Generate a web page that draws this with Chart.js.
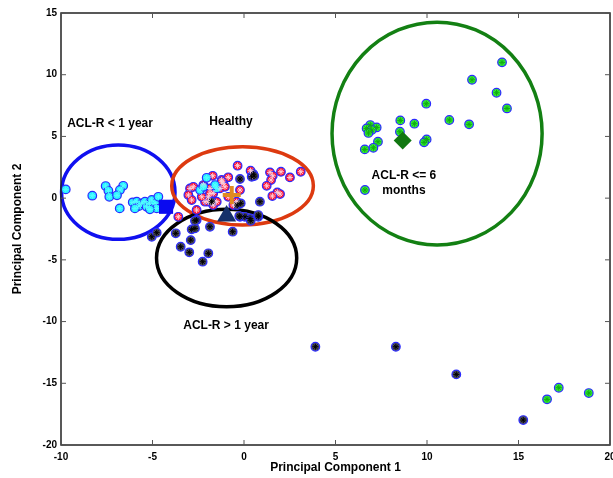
<!DOCTYPE html>
<html>
<head>
<meta charset="utf-8">
<script src="https://cdn.jsdelivr.net/npm/chart.js@4.4.0/dist/chart.umd.min.js"></script>
<style>
  html, body { margin: 0; padding: 0; background: #fff; }
  #wrap { width: 613px; height: 478px; }
</style>
</head>
<body>
<div id="wrap"><canvas id="pcaChart" width="613" height="478"></canvas></div>
<script>
// group points, [PC1, PC2]
const aclLessOneYear = [
    [-9.74, 0.71], [-8.29, 0.2], [-7.56, 0.98], [-7.41, 0.6], [-7.36, 0.11], [-6.6, 1.0],
    [-6.78, 0.66], [-6.94, 0.23], [-6.79, -0.83], [-6.08, -0.34], [-5.86, -0.29], [-5.74, -0.64],
    [-5.59, -0.42], [-5.41, -0.29], [-5.32, -0.7], [-5.17, -0.42], [-5.04, -0.15], [-4.86, -0.42],
    [-4.77, -0.83], [-4.68, 0.11], [-5.14, -0.91], [-5.96, -0.83],
    [-2.04, 1.65], [-2.4, 0.66], [-2.22, 0.92], [-1.49, 0.79], [-1.58, 1.06]
];
const healthy = [
    [-0.35, 2.63], [0.36, 2.22], [0.46, 1.82], [1.42, 2.09], [1.57, 1.81], [1.48, 1.47],
    [2.02, 2.14], [2.51, 1.68], [3.1, 2.14], [1.24, 1.0], [1.82, 0.47], [1.97, 0.33], [1.55, 0.17],
    [-1.71, 1.81], [-1.22, 1.47], [-0.86, 1.69], [-1.13, 1.2], [-2.22, 1.06], [-1.86, 0.79],
    [-1.31, 0.79], [-1.68, 0.39], [-2.13, -0.29], [-1.95, -0.29], [-1.68, -0.56], [-2.95, 0.79],
    [-3.04, 0.25], [-2.86, -0.15], [-3.59, -1.51], [-2.59, -0.96], [-0.58, -0.56], [-0.4, -0.29],
    [-0.86, 0.11], [-1.95, 0.11], [-2.31, 0.11], [-2.77, 0.92], [-1.49, -0.29], [-1.86, 0.39],
    [-1.22, 1.33], [-1.04, 0.92], [-0.22, 0.66]
];
const aclMoreOneYear = [
    [-0.22, 1.55], [0.42, 1.73], [0.51, 1.95], [0.56, 1.79], [0.87, -0.29], [-0.22, -1.51],
    [0.05, -1.51], [0.33, -1.64], [0.78, -1.51], [-2.59, -1.77], [-5.04, -3.13], [-4.77, -2.8],
    [-3.73, -2.85], [-2.86, -2.53], [-2.68, -2.45], [-1.86, -2.32], [-2.91, -3.4], [-3.46, -3.94],
    [-2.99, -4.39], [-2.26, -5.15], [-1.95, -4.47], [-0.62, -2.72], [-0.26, -1.45], [0.37, -1.83],
    [0.78, -1.37], [-2.68, -1.83], [-0.37, -0.56], [-0.18, -0.42], [-1.77, -0.29],
    [3.9, -12.04], [8.3, -12.04], [11.6, -14.28], [15.26, -17.98]
];
const aclSixMonths = [
    [14.1, 11.0], [12.46, 9.59], [13.8, 8.54], [14.37, 7.27], [9.96, 7.65], [8.54, 6.3],
    [9.31, 6.03], [11.22, 6.33], [12.3, 5.98], [6.9, 5.92], [6.7, 5.65], [7.25, 5.73],
    [6.98, 5.52], [6.8, 5.28], [7.32, 4.57], [7.07, 4.08], [6.6, 3.95], [9.98, 4.76],
    [9.84, 4.52], [8.52, 5.38], [6.61, 0.66], [16.56, -16.3], [17.2, -15.36], [18.84, -15.79]
];

// group centroids
const centroidLessOneYear = [[-4.26, -0.7]];
const centroidHealthy = [[-0.67, 0.25]];
const centroidMoreOneYear = [[-0.95, -1.45]];
const centroidSixMonths = [[8.67, 4.68]];

// ellipses: [centerX, centerY, radiusX, radiusY] in data units
const ellipseLessOneYear = [-6.87, 0.48, 3.1, 3.82];
const ellipseHealthy = [-0.08, 1.0, 3.87, 3.17];
const ellipseMoreOneYear = [-0.95, -4.85, 3.83, 3.95];
const ellipseSixMonths = [10.55, 5.23, 5.74, 9.03];

// group labels: [text, x, y]
const groupLabels = [
    ['ACL-R < 1 year', -7.32, 6.0],
    ['Healthy', -0.71, 6.17],
    ['ACL-R > 1 year', -0.98, -10.36],
    ['ACL-R <= 6', 8.74, 1.79],
    ['months', 8.74, 0.58]
];

const xTicks = [-10, -5, 0, 5, 10, 15, 20];
const yTicks = [-20, -15, -10, -5, 0, 5, 10, 15];

function toPoints(arr) {
    return arr.map(p => ({ x: p[0], y: p[1] }));
}

function groupDatasets(arr, fill, star) {
    return [
        {
            data: toPoints(arr),
            pointStyle: 'star',
            pointRadius: 3,
            borderColor: star,
            borderWidth: 1,
            order: 1
        },
        {
            data: toPoints(arr),
            pointStyle: 'circle',
            pointRadius: 4.3,
            backgroundColor: fill,
            borderColor: '#2b2bff',
            borderWidth: 1.2,
            order: 2
        }
    ];
}

const ellipsePlugin = {
    id: 'ellipses',
    beforeDatasetsDraw(chart) {
        const ctx = chart.ctx;
        const xs = chart.scales.x;
        const ys = chart.scales.y;
        const list = [
            [ellipseLessOneYear, '#1010f0'],
            [ellipseHealthy, '#dd3a10'],
            [ellipseMoreOneYear, '#000000'],
            [ellipseSixMonths, '#138013']
        ];
        ctx.save();
        list.forEach(([e, color]) => {
            const cx = xs.getPixelForValue(e[0]);
            const cy = ys.getPixelForValue(e[1]);
            const rx = Math.abs(xs.getPixelForValue(e[0] + e[2]) - cx);
            const ry = Math.abs(ys.getPixelForValue(e[1] + e[3]) - cy);
            ctx.beginPath();
            ctx.ellipse(cx, cy, rx, ry, 0, 0, Math.PI * 2);
            ctx.strokeStyle = color;
            ctx.lineWidth = 3.5;
            ctx.stroke();
        });
        ctx.restore();
    },
    afterDraw(chart) {
        const ctx = chart.ctx;
        const xs = chart.scales.x;
        const ys = chart.scales.y;
        const area = chart.chartArea;
        ctx.save();
        // box and inward ticks
        ctx.strokeStyle = '#222';
        ctx.lineWidth = 1.5;
        ctx.strokeRect(area.left, area.top, area.right - area.left, area.bottom - area.top);
        ctx.lineWidth = 1;
        ctx.strokeStyle = '#555';
        ctx.beginPath();
        xTicks.forEach(v => {
            const px = xs.getPixelForValue(v);
            ctx.moveTo(px, area.bottom); ctx.lineTo(px, area.bottom - 5);
            ctx.moveTo(px, area.top); ctx.lineTo(px, area.top + 5);
        });
        yTicks.forEach(v => {
            const py = ys.getPixelForValue(v);
            ctx.moveTo(area.left, py); ctx.lineTo(area.left + 5, py);
            ctx.moveTo(area.right, py); ctx.lineTo(area.right - 5, py);
        });
        ctx.stroke();
        // group labels
        ctx.fillStyle = '#000';
        ctx.font = 'bold 12px "Liberation Sans", Arial, sans-serif';
        ctx.textAlign = 'center';
        ctx.textBaseline = 'middle';
        groupLabels.forEach(([t, x, y]) => {
            ctx.fillText(t, xs.getPixelForValue(x), ys.getPixelForValue(y));
        });
        ctx.restore();
    }
};

document.addEventListener('DOMContentLoaded', function () {
    const ctx = document.getElementById('pcaChart').getContext('2d');

    const datasets = [
        ...groupDatasets(aclLessOneYear, '#22eeff', '#55ffff'),
        ...groupDatasets(aclMoreOneYear, '#4a4a5a', '#000000'),
        ...groupDatasets(healthy, '#ff1030', '#ffd0d8'),
        ...groupDatasets(aclSixMonths, '#33ee33', '#11aa11'),
        {
            data: toPoints(centroidLessOneYear),
            pointStyle: 'rect',
            pointRadius: 10,
            backgroundColor: '#0a0af0',
            borderColor: '#0a0af0',
            borderWidth: 0,
            order: 0
        },
        {
            data: toPoints(centroidMoreOneYear),
            pointStyle: 'triangle',
            pointRadius: 11,
            backgroundColor: '#15306a',
            borderColor: '#15306a',
            borderWidth: 0,
            order: 0
        },
        {
            data: toPoints(centroidHealthy),
            pointStyle: 'cross',
            pointRadius: 9,
            borderColor: '#e08a20',
            borderWidth: 4,
            order: 0
        },
        {
            data: toPoints(centroidSixMonths),
            pointStyle: 'rectRot',
            pointRadius: 9,
            backgroundColor: '#117711',
            borderColor: '#117711',
            borderWidth: 0,
            order: 0
        }
    ];

    new Chart(ctx, {
        type: 'scatter',
        data: { datasets: datasets },
        plugins: [ellipsePlugin],
        options: {
            responsive: false,
            animation: false,
            events: [],
            layout: { autoPadding: false, padding: { top: 13, right: 3, left: 0, bottom: 0 } },
            plugins: {
                legend: { display: false },
                tooltip: { enabled: false }
            },
            scales: {
                x: {
                    type: 'linear',
                    min: -10,
                    max: 20,
                    afterFit: scale => {
                        scale.height = 33;
                        scale.paddingLeft = 0;
                        scale.paddingRight = 0;
                    },
                    afterBuildTicks: scale => { scale.ticks = xTicks.map(v => ({ value: v })); },
                    grid: { display: false, drawTicks: false },
                    border: { display: false },
                    ticks: {
                        padding: 6,
                        color: '#000',
                        font: { family: '"Liberation Sans", Arial', size: 10, weight: 'bold' }
                    },
                    title: {
                        display: true,
                        text: 'Principal Component 1',
                        color: '#000',
                        font: { family: '"Liberation Sans", Arial', size: 12, weight: 'bold' },
                        padding: { top: 0, bottom: 3 }
                    }
                },
                y: {
                    type: 'linear',
                    min: -20,
                    max: 15,
                    afterFit: scale => {
                        scale.width = 61;
                        scale.paddingTop = 0;
                        scale.paddingBottom = 0;
                    },
                    afterBuildTicks: scale => { scale.ticks = yTicks.map(v => ({ value: v })); },
                    grid: { display: false, drawTicks: false },
                    border: { display: false },
                    ticks: {
                        padding: 4,
                        color: '#000',
                        font: { family: '"Liberation Sans", Arial', size: 10, weight: 'bold' }
                    },
                    title: {
                        display: true,
                        text: 'Principal Component 2',
                        color: '#000',
                        font: { family: '"Liberation Sans", Arial', size: 12, weight: 'bold' },
                        padding: { top: 10, bottom: 0 }
                    }
                }
            }
        }
    });
});
</script>
</body>
</html>
